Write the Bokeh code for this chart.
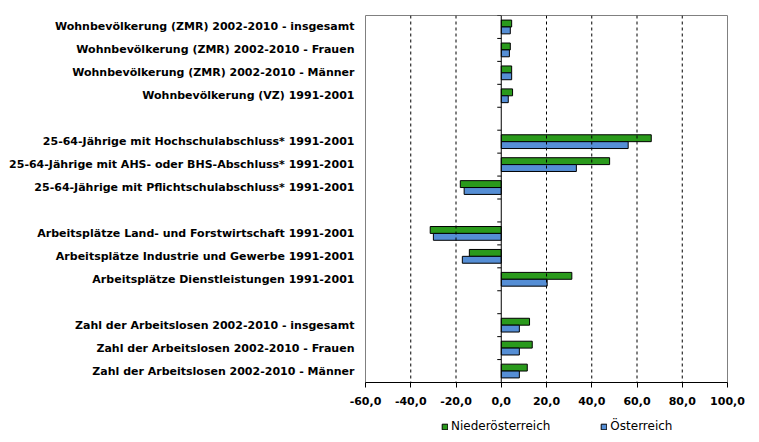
import numpy as np
from bokeh.plotting import figure
from bokeh.layouts import column
from bokeh.models import ColumnDataSource, FixedTicker, Span, Legend, LegendItem, Range1d
from bokeh.embed import file_html
from bokeh.resources import INLINE

categories = [
    "Wohnbevölkerung (ZMR) 2002-2010 - insgesamt",
    "Wohnbevölkerung (ZMR) 2002-2010 - Frauen",
    "Wohnbevölkerung (ZMR) 2002-2010 - Männer",
    "Wohnbevölkerung (VZ) 1991-2001",
    "25-64-Jährige mit Hochschulabschluss* 1991-2001",
    "25-64-Jährige mit AHS- oder BHS-Abschluss* 1991-2001",
    "25-64-Jährige mit Pflichtschulabschluss* 1991-2001",
    "Arbeitsplätze Land- und Forstwirtschaft 1991-2001",
    "Arbeitsplätze Industrie und Gewerbe 1991-2001",
    "Arbeitsplätze Dienstleistungen 1991-2001",
    "Zahl der Arbeitslosen 2002-2010 - insgesamt",
    "Zahl der Arbeitslosen 2002-2010 - Frauen",
    "Zahl der Arbeitslosen 2002-2010 - Männer",
]
groups = [0, 0, 0, 0, 1, 1, 1, 2, 2, 2, 3, 3, 3]
niederoesterreich = [4.6, 4.0, 4.6, 5.0, 66.3, 47.9, -18.1, -31.4, -14.1, 31.2, 12.5, 13.7, 11.5]
oesterreich = [4.0, 3.6, 4.6, 3.1, 56.1, 33.2, -16.4, -30.0, -17.2, 20.3, 8.0, 8.0, 8.0]
x_ticks = [-60, -40, -20, 0, 20, 40, 60, 80, 100]
x_tick_labels = ["-60,0", "-40,0", "-20,0", "0,0", "20,0", "40,0", "60,0", "80,0", "100,0"]
series_names = ["Niederösterreich", "Österreich"]
colors = ["#2A9A1C", "#558ED5"]

n_slots = len(categories) + max(groups)
slot_index = [i + g for i, g in enumerate(groups)]
y_center = [n_slots - s - 0.5 for s in slot_index]

src = ColumnDataSource(dict(
    y_no=[y + 0.15 for y in y_center],
    y_at=[y - 0.15 for y in y_center],
    no=niederoesterreich,
    at=oesterreich,
))

p = figure(frame_width=362, frame_height=367,
           min_border_left=365, min_border_right=32, min_border_top=15, min_border_bottom=31,
           x_range=Range1d(-60, 100), y_range=Range1d(0, n_slots),
           output_backend="svg", toolbar_location=None)
p.outline_line_color = "#808080"
p.outline_line_width = 1
p.xgrid.visible = False
p.ygrid.visible = False
p.background_fill_color = "white"
p.border_fill_color = "white"

for xv in x_ticks:
    if xv not in (-60, 0, 100):
        p.add_layout(Span(location=xv, dimension="height", line_color="black",
                          line_dash="3 3", line_width=1))

r1 = p.hbar(y="y_no", left=0, right="no", height=0.3, source=src,
            fill_color=colors[0], line_color="black", line_width=1)
r2 = p.hbar(y="y_at", left=0, right="at", height=0.3, source=src,
            fill_color=colors[1], line_color="black", line_width=1)

p.add_layout(Span(location=0, dimension="height", line_color="black", line_width=1))
p.ray(x=0, y=list(range(1, n_slots + 1)), length=4, length_units="screen",
      angle=np.pi, line_color="black", line_width=1)

xa = p.xaxis[0]
xa.ticker = FixedTicker(ticks=x_ticks)
xa.major_label_overrides = {t: l for t, l in zip(x_ticks, x_tick_labels)}
xa.axis_line_color = "black"
xa.major_tick_line_color = "black"
xa.major_tick_out = 5
xa.major_tick_in = 0
xa.minor_tick_line_color = None
xa.major_label_standoff = 9
xa.major_label_text_font = "DejaVu Sans"
xa.major_label_text_font_style = "bold"
xa.major_label_text_font_size = "11px"
xa.major_label_text_color = "black"

ya = p.yaxis[0]
ya.ticker = FixedTicker(ticks=y_center)
ya.major_label_overrides = {y: c for y, c in zip(y_center, categories)}
ya.axis_line_color = None
ya.major_tick_line_color = None
ya.minor_tick_line_color = None
ya.major_label_standoff = 5
ya.major_label_text_font = "DejaVu Sans"
ya.major_label_text_font_style = "bold"
ya.major_label_text_font_size = "11px"
ya.major_label_text_color = "black"

# legend strip below the chart (same border structure so the column aligns)
lg = figure(frame_width=362, frame_height=26,
            min_border_left=365, min_border_right=32, min_border_top=0, min_border_bottom=0,
            x_range=Range1d(0, 1), y_range=Range1d(0, 1),
            x_axis_type=None, y_axis_type=None,
            output_backend="svg", toolbar_location=None)
lg.outline_line_color = None
lg.xgrid.visible = False
lg.ygrid.visible = False
swatch = ColumnDataSource(dict(y=[np.nan], right=[np.nan]))
g1 = lg.hbar(y="y", left=0, right="right", height=1, source=swatch,
             fill_color=colors[0], line_color="black", line_width=1)
g2 = lg.hbar(y="y", left=0, right="right", height=1, source=swatch,
             fill_color=colors[1], line_color="black", line_width=1)
legend = Legend(items=[LegendItem(label=series_names[0], renderers=[g1]),
                       LegendItem(label=series_names[1], renderers=[g2])],
                orientation="horizontal", location=(76, 6),
                glyph_width=7, glyph_height=7, label_standoff=3, spacing=50,
                padding=0, margin=0, border_line_color=None, background_fill_alpha=0,
                label_text_font="DejaVu Sans", label_text_font_size="12px",
                label_height=14, label_text_color="black")
lg.add_layout(legend)

layout = column(p, lg, spacing=0)
open("out.html", "w").write(file_html(layout, INLINE))
